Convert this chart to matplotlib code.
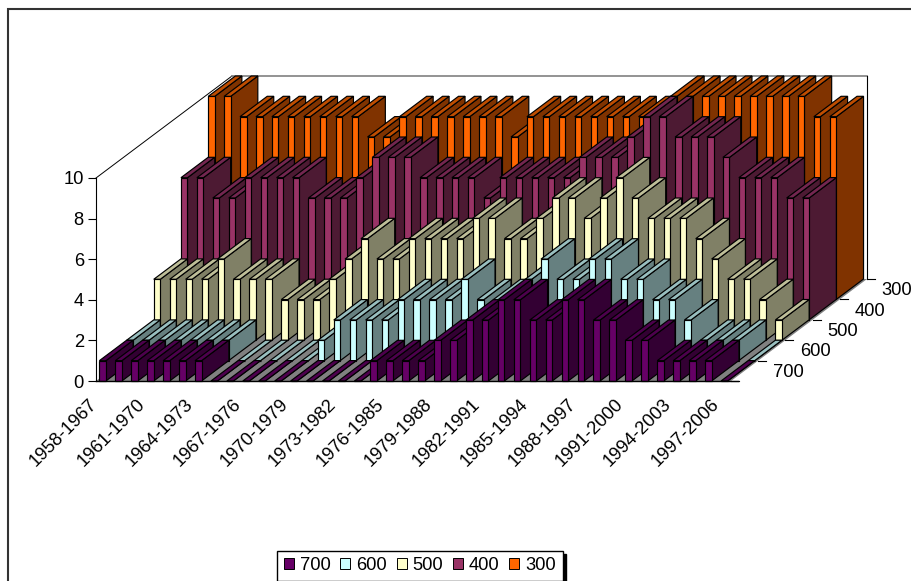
import matplotlib
matplotlib.use('Agg')
import matplotlib.pyplot as plt
from matplotlib.patches import Patch, Rectangle
from matplotlib.transforms import ScaledTranslation

plt.rcParams['font.family'] = ['Liberation Sans', 'DejaVu Sans']

# number of periods per depth level, front row first
depth_names = ['700', '600', '500', '400', '300']
v700 = [1,1,1,1,1,1,1,0,0,0,0,0,0,0,0,0,0,1,1,1,1,2,2,3,3,4,4,3,3,4,4,3,3,2,2,1,1,1,1,0]
v600 = [1,1,1,1,1,1,1,0,0,0,0,0,1,2,2,2,2,3,3,3,3,4,3,3,3,4,5,4,4,5,5,4,4,3,3,2,1,1,1,0]
v500 = [3,3,3,3,4,3,3,3,2,2,2,3,4,5,4,4,5,5,5,5,6,6,5,5,6,7,7,6,7,8,7,6,6,6,5,4,3,3,2,1]
v400 = [7,7,6,6,7,7,7,7,6,6,6,7,8,8,8,7,7,7,7,6,7,7,7,7,7,8,8,8,9,10,10,9,9,9,8,7,7,7,6,6]
v300 = [10,10,9,9,9,9,9,9,9,9,8,8,9,9,9,9,9,9,9,8,9,9,9,9,9,9,9,9,9,10,10,10,10,10,10,10,10,10,9,9]
series = [v700, v600, v500, v400, v300]

tick_labels = ['1958-1967', '1961-1970', '1964-1973', '1967-1976', '1970-1979',
               '1973-1982', '1976-1985', '1979-1988', '1982-1991', '1985-1994',
               '1988-1997', '1991-2000', '1994-2003', '1997-2006']

front_colors = ['#660066', '#CCFFFF', '#FFFFCC', '#993366', '#FF6600']
side_colors = ['#330033', '#668080', '#808066', '#4D1A33', '#803300']
top_colors = ['#4D004D', '#99BFBF', '#BFBF99', '#732650', '#BF4D00']

W, H = 912, 581
fig = plt.figure(figsize=(W / 100, H / 100), dpi=100)
ax = fig.add_axes([96 / W, 1 - 381 / H, 637.6 / W, 203 / H])
ax.patch.set_alpha(0)

# oblique depth step of one row, in data units
dx = 27.2 / 15.94
dy = 20.4 / 20.3
n_rows = len(series)
wall_right = 39.84
bar_left = 0.21
bar_w = 0.41
edge_lw = 0.85

# floor and walls
ax.fill([0, wall_right, wall_right + n_rows * dx, n_rows * dx],
        [0, 0, n_rows * dy, n_rows * dy], color='#808080', lw=0, clip_on=False, zorder=1)
ax.plot([0, n_rows * dx], [10, 10 + n_rows * dy], color='black', lw=0.7, clip_on=False, zorder=1)
ax.plot([n_rows * dx, wall_right + n_rows * dx], [10 + n_rows * dy] * 2,
        color='#808080', lw=1.2, clip_on=False, zorder=1)
ax.plot([wall_right + n_rows * dx] * 2, [n_rows * dy, 10 + n_rows * dy],
        color='black', lw=0.8, clip_on=False, zorder=1)

# draw rows from the back, bars left to right so each one covers its neighbour's side
z = 2
for row in range(n_rows - 1, -1, -1):
    ox = row * dx
    oy = row * dy
    for i, v in enumerate(series[row]):
        x0 = i + bar_left + ox
        x1 = x0 + bar_w
        ax.fill([x1, x1 + dx, x1 + dx, x1], [oy, oy + dy, oy + v + dy, oy + v],
                facecolor=side_colors[row], edgecolor='black', lw=edge_lw, clip_on=False, zorder=z)
        ax.fill([x0, x1, x1 + dx, x0 + dx], [oy + v, oy + v, oy + v + dy, oy + v + dy],
                facecolor=top_colors[row], edgecolor='black', lw=edge_lw, clip_on=False, zorder=z)
        ax.bar(x0, v, bar_w, bottom=oy, align='edge', facecolor=front_colors[row],
               edgecolor='black', lw=edge_lw, clip_on=False, zorder=z)
        z += 1

# axis lines
for s in ['top', 'right', 'bottom']:
    ax.spines[s].set_visible(False)
ax.spines['left'].set_linewidth(0.8)
ax.plot([0, 40.28], [0, 0], color='black', lw=1.0, clip_on=False, zorder=z)

ax.set_yticks(range(0, 11, 2))
ax.tick_params(axis='y', length=5.8, width=0.8, labelsize=13.2, pad=3)
ax.set_xticks([i * 3 for i in range(len(tick_labels))])
ax.set_xticklabels(tick_labels, rotation=45, ha='right', va='center', rotation_mode='anchor', fontsize=13.2)
ax.tick_params(axis='x', length=0, pad=15)
# nudge the period labels slightly left of their tick
shift = ScaledTranslation(-1.2 / 100, 0, fig.dpi_scale_trans)
for lab in ax.get_xticklabels():
    lab.set_transform(lab.get_transform() + shift)

# depth axis ticks and labels on the right edge
for k in range(n_rows + 1):
    ax.plot([wall_right + k * dx, wall_right + k * dx + 0.5], [k * dy, k * dy],
            color='black', lw=0.8, clip_on=False, zorder=z)
for k, name in enumerate(depth_names):
    ax.text(wall_right + (k + 0.5) * dx + 1.75, (k + 0.5) * dy - 0.07, name,
            ha='left', va='center', fontsize=13.2, clip_on=False)

# limits last, the ticks and fills above would otherwise widen them
ax.set_xlim(0, 40)
ax.set_ylim(0, 10)

# legend
handles = [Patch(facecolor=c, edgecolor='black', lw=0.7, label=n)
           for c, n in zip(front_colors, depth_names)]
fig.legend(handles=handles, ncol=5, loc='lower left', bbox_to_anchor=(277.3 / W, 0.3 / H),
           fontsize=13.2, fancybox=False, framealpha=1, edgecolor='black', borderaxespad=0,
           handlelength=0.55, handleheight=0.55, handletextpad=0.33, columnspacing=0.52,
           borderpad=0.36, shadow={'ox': 2.2, 'oy': -2.2, 'color': 'black', 'alpha': 1})

# chart area border, runs off the right and bottom of the canvas
fig.add_artist(Rectangle((8.5 / W, -0.1), 1.2, 1.1 - 8.5 / H, fill=False, edgecolor='#333333',
                         lw=1.5, transform=fig.transFigure))

fig.savefig('out.png', dpi=100)
